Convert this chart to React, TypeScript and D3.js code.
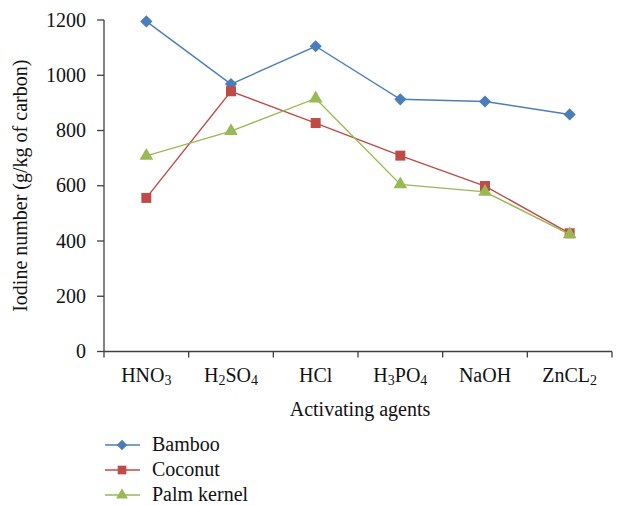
import * as d3 from "d3";

const agents = ["HNO3", "H2SO4", "HCl", "H3PO4", "NaOH", "ZnCL2"];
// label pieces: [text, isSubscript]
const agentLabels: [string, boolean][][] = [
  [["HNO", false], ["3", true]],
  [["H", false], ["2", true], ["SO", false], ["4", true]],
  [["HCl", false]],
  [["H", false], ["3", true], ["PO", false], ["4", true]],
  [["NaOH", false]],
  [["ZnCL", false], ["2", true]],
];
const bamboo = [1195, 968, 1105, 913, 905, 858];
const coconut = [556, 942, 827, 709, 599, 428];
const palmKernel = [708, 798, 916, 605, 578, 424];
const yTicks = [0, 200, 400, 600, 800, 1000, 1200];

const series = [
  { name: "Bamboo", values: bamboo, color: "#4a7ebb", symbol: d3.symbolDiamond2, size: 95 },
  { name: "Coconut", values: coconut, color: "#be4b48", symbol: d3.symbolSquare, size: 100 },
  { name: "Palm kernel", values: palmKernel, color: "#98b954", symbol: d3.symbolTriangle, size: 80 },
];

const font = "'Liberation Serif', 'Times New Roman', serif";
const fs = 20;

export default function App() {
  const width = 627;
  const height = 505;
  const margin = { left: 104, right: 15, top: 20, bottom: 154 };

  const x = d3
    .scaleBand()
    .domain(agents)
    .range([margin.left, 612]);
  const y = d3
    .scaleLinear()
    .domain([0, 1200])
    .range([height - margin.bottom + 0.5, margin.top]);

  const cx = (i: number) => x(agents[i])! + x.bandwidth() / 2;
  const line = d3
    .line<number>()
    .x((_, i) => cx(i))
    .y((d) => y(d));

  const x0 = margin.left;
  const y0 = y(0);
  const tickPos = [...agents.map((a) => x(a)!), 612];

  return (
    <svg
      width={width}
      height={height}
      style={{ position: "absolute", left: 0, top: 0 }}
      fontFamily={font}
    >
      <rect width={width} height={height} fill="#fff" />
      {/* y axis */}
      <line x1={x0} x2={x0} y1={y(1200)} y2={y0} stroke="#404040" strokeWidth={1.3} />
      {yTicks.map((t) => (
        <g key={t}>
          <line x1={x0 - 7} x2={x0} y1={y(t)} y2={y(t)} stroke="#404040" strokeWidth={1.3} />
          <text x={x0 - 18} y={y(t)} dy="0.33em" textAnchor="end" fontSize={fs} fill="#111">
            {t}
          </text>
        </g>
      ))}
      {/* x axis */}
      <line x1={x0} x2={612} y1={y0} y2={y0} stroke="#404040" strokeWidth={1.3} />
      {tickPos.map((p, i) => (
        <line key={i} x1={p} x2={p} y1={y0} y2={y0 + 6} stroke="#404040" strokeWidth={1.3} />
      ))}
      {agentLabels.map((parts, i) => (
        <text key={i} x={cx(i)} y={382} textAnchor="middle" fontSize={fs} fill="#111">
          {parts.map(([s, sub], j) =>
            sub ? (
              <tspan key={j} fontSize={14} dy={3}>
                {s}
              </tspan>
            ) : (
              <tspan key={j} dy={j > 0 && parts[j - 1][1] ? -3 : 0}>
                {s}
              </tspan>
            ),
          )}
        </text>
      ))}
      <text x={(x0 + 612) / 2 + 2} y={416} textAnchor="middle" fontSize={fs} fill="#111">
        Activating agents
      </text>
      <text
        transform={`translate(27,${(y(1200) + y0) / 2}) rotate(-90)`}
        textAnchor="middle"
        fontSize={fs}
        fill="#111"
      >
        Iodine number (g/kg of carbon)
      </text>
      {/* series */}
      {series.map((s) => (
        <g key={s.name}>
          <path d={line(s.values)!} fill="none" stroke={s.color} strokeWidth={1.4} />
          {s.values.map((v, i) => (
            <path
              key={i}
              d={d3.symbol(s.symbol, s.size)()!}
              transform={`translate(${cx(i)},${y(v)})`}
              fill={s.color}
            />
          ))}
        </g>
      ))}
      {/* legend */}
      {series.map((s, i) => {
        const ly = 445 + i * 25;
        return (
          <g key={s.name}>
            <line x1={105} x2={140} y1={ly} y2={ly} stroke={s.color} strokeWidth={1.4} />
            <path
              d={d3.symbol(s.symbol, s.size * 0.75)()!}
              transform={`translate(122,${ly})`}
              fill={s.color}
            />
            <text x={152} y={ly} dy="0.3em" fontSize={fs} fill="#111">
              {s.name}
            </text>
          </g>
        );
      })}
    </svg>
  );
}
